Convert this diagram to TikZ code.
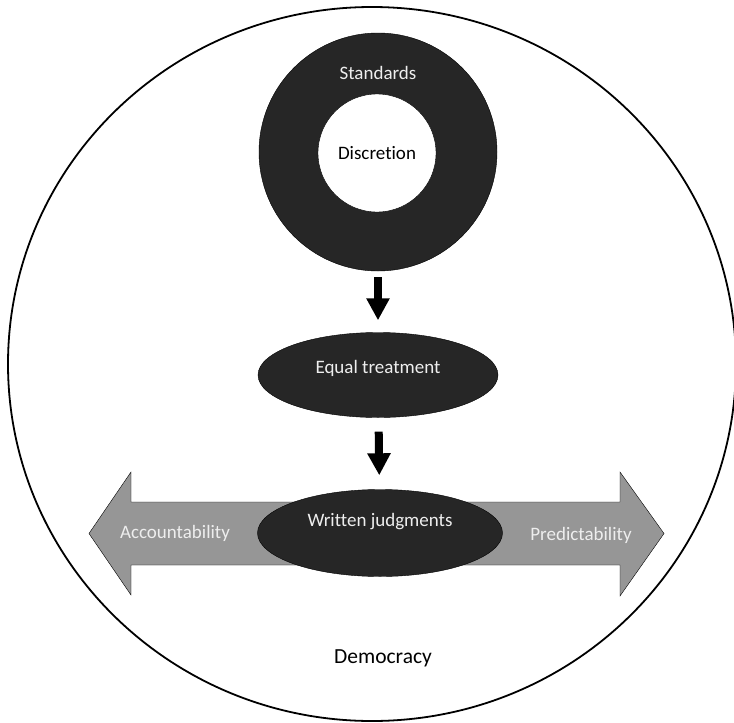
\documentclass[tikz,border=0pt]{standalone}
\usepackage{fontspec}
\setmainfont{Carlito}[Ligatures=NoCommon]
\usetikzlibrary{shapes.geometric,arrows.meta}
\definecolor{darkfill}{RGB}{38,38,38}
\definecolor{arrowgray}{RGB}{150,150,150}
\definecolor{lighttext}{RGB}{238,238,238}
\begin{document}
\begin{tikzpicture}[x=1pt,y=-1pt,
  darkoval/.style={ellipse,draw,fill=darkfill,inner sep=0pt},
  lightlabel/.style={text=lighttext,font=\fontsize{19}{21}\selectfont},
  blockarrow/.style={line width=8pt,-{Triangle[width=22pt,length=22pt]}}]
 \useasboundingbox (0,0) rectangle (734,723);
 \draw[line width=1.8pt] (372,364) ellipse [x radius=364, y radius=357];
 % ring with the hole
 \node[circle,draw,fill=darkfill,minimum size=238pt,inner sep=0pt] (standards) at (378,152) {};
 \node[circle,draw,fill=white,minimum size=118pt,inner sep=0pt,font=\fontsize{19}{21}\selectfont] (discretion) at (377,153) {Discretion};
 \node[lightlabel] (standardstxt) at (378,73) {Standards};
 \node[darkoval,minimum width=240pt,minimum height=85pt] (equal) at (378,375) {};
 \node[lightlabel] (equaltxt) at (378,368) {Equal treatment};
 % two-headed arrow
 \draw[fill=arrowgray] (89,533.5) -- (131,472) -- (131,502) -- (620,502) -- (620,472)
   -- (664,533.5) -- (620,596) -- (620,565) -- (131,565) -- (131,595) -- cycle;
 \node[lightlabel] (accountability) at (175,533) {Accountability};
 \node[lightlabel] (predictability) at (581,535) {Predictability};
 \node[darkoval,minimum width=245pt,minimum height=87pt] (written) at (380,533) {};
 \node[lightlabel] (writtentxt) at (380,522) {Written judgments};
 \draw[blockarrow,shorten <=6pt,shorten >=12pt] (standards) -- (equal);
 \draw[blockarrow,shorten <=14pt,shorten >=14pt] (equal) -- (written);
 \node[font=\fontsize{21.5}{24}\selectfont] (democracy) at (383,658) {Democracy};
\end{tikzpicture}
\end{document}
